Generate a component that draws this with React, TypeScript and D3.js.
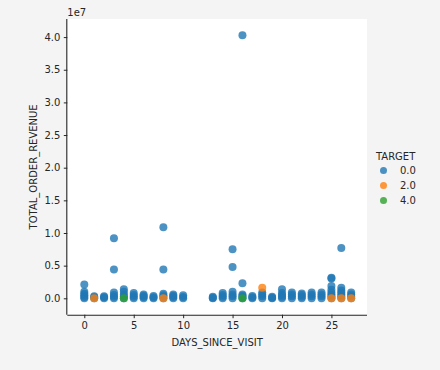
import React, { useEffect, useRef } from "react";
import * as d3 from "d3";

// [DAYS_SINCE_VISIT, TOTAL_ORDER_REVENUE]
const target0: [number, number][] = [
  [0, 0], [0, 200000], [0, 450000], [0, 700000], [0, 1000000], [0, 2100000],
  [1, 0], [1, 150000], [1, 300000],
  [2, 0], [2, 150000], [2, 300000],
  [3, 0], [3, 250000], [3, 500000], [3, 900000], [3, 4400000], [3, 9200000],
  [4, 0], [4, 300000], [4, 600000], [4, 1000000], [4, 1400000],
  [5, 0], [5, 250000], [5, 500000], [5, 800000],
  [6, 0], [6, 200000], [6, 400000], [6, 600000],
  [7, 0], [7, 150000], [7, 350000],
  [8, 0], [8, 250000], [8, 450000], [8, 700000], [8, 4400000], [8, 10900000],
  [9, 0], [9, 200000], [9, 400000], [9, 600000],
  [10, 0], [10, 200000], [10, 450000],
  [13, 0], [13, 100000], [13, 250000],
  [14, 0], [14, 250000], [14, 500000], [14, 800000],
  [15, 0], [15, 300000], [15, 600000], [15, 1000000], [15, 4800000], [15, 7500000],
  [16, 0], [16, 200000], [16, 400000], [16, 600000], [16, 2300000], [16, 40300000],
  [17, 0], [17, 150000], [17, 350000],
  [18, 0], [18, 300000], [18, 600000], [18, 900000],
  [19, 0], [19, 100000], [19, 250000],
  [20, 0], [20, 250000], [20, 500000], [20, 800000], [20, 1400000],
  [21, 0], [21, 300000], [21, 600000], [21, 900000],
  [22, 0], [22, 250000], [22, 500000], [22, 750000],
  [23, 0], [23, 300000], [23, 600000], [23, 900000],
  [24, 0], [24, 300000], [24, 600000], [24, 900000],
  [25, 0], [25, 300000], [25, 600000], [25, 900000], [25, 1300000], [25, 1900000],
  [25, 3050000], [25, 3150000],
  [26, 0], [26, 300000], [26, 600000], [26, 900000], [26, 1200000], [26, 1600000],
  [26, 7700000],
  [27, 0], [27, 300000], [27, 600000], [27, 900000],
];
const target2: [number, number][] = [
  [1, 0], [8, 0], [18, 1600000], [25, 0], [26, 0], [27, 0],
];
const target4: [number, number][] = [
  [4, 0], [16, 0],
];

const seriesNames = ["0.0", "2.0", "4.0"];
const seriesColors = ["#1f77b4", "#ff7f0e", "#2ca02c"];
const seriesData = [target0, target2, target4];

const xTicks = [0, 5, 10, 15, 20, 25];
const yTicks = [0, 0.5e7, 1e7, 1.5e7, 2e7, 2.5e7, 3e7, 3.5e7, 4e7];

const App = () => {
  const svgRef = useRef<SVGSVGElement>(null);

  useEffect(() => {
    const svg = d3.select(svgRef.current);
    svg.selectAll("*").remove();

    const W = 440;
    const H = 370;
    const left = 67.3;
    const right = 367;
    const top = 19;
    const bottom = 314.7;
    const font = "DejaVu Sans, sans-serif";

    svg.attr("width", W).attr("height", H);
    svg.append("rect").attr("width", W).attr("height", H).attr("fill", "#f4f4f4");
    svg
      .append("rect")
      .attr("x", left)
      .attr("y", top)
      .attr("width", right - left)
      .attr("height", bottom - top)
      .attr("fill", "#ffffff");

    const x = d3.scaleLinear().domain([-1.72, 28.6]).range([left, right]);
    const y = d3.scaleLinear().domain([-0.251e7, 4.277e7]).range([bottom, top]);

    // points
    seriesData.forEach((data, i) => {
      svg
        .append("g")
        .selectAll("circle")
        .data(data)
        .enter()
        .append("circle")
        .attr("cx", (d) => x(d[0]))
        .attr("cy", (d) => y(d[1]))
        .attr("r", 4)
        .attr("fill", seriesColors[i])
        .attr("fill-opacity", 0.8);
    });

    // x axis
    const xAxis = svg
      .append("g")
      .attr("transform", `translate(0,${bottom})`)
      .call(d3.axisBottom(x).tickValues(xTicks).tickSize(3.5).tickPadding(3.5).tickFormat(d3.format("d")));
    xAxis.select(".domain").attr("d", `M${left},0.5H${right}`).attr("stroke", "#262626").attr("stroke-width", 1.1);
    xAxis.selectAll(".tick line").attr("stroke", "#262626");
    xAxis.selectAll(".tick text").attr("fill", "#262626").attr("font-size", 10).attr("font-family", font);

    // y axis
    const yAxis = svg
      .append("g")
      .attr("transform", `translate(${left},0)`)
      .call(d3.axisLeft(y).tickValues(yTicks).tickSize(3.5).tickPadding(3.5).tickFormat((d) => (+d / 1e7).toFixed(1)));
    yAxis.select(".domain").attr("d", `M-0.5,${top}V${bottom}`).attr("stroke", "#262626").attr("stroke-width", 1.1);
    yAxis.selectAll(".tick line").attr("stroke", "#262626");
    yAxis.selectAll(".tick text").attr("fill", "#262626").attr("font-size", 10).attr("font-family", font);

    // offset text
    svg
      .append("text")
      .attr("x", left)
      .attr("y", 16)
      .attr("font-size", 10)
      .attr("font-family", font)
      .attr("fill", "#262626")
      .text("1e7");

    // axis labels
    svg
      .append("text")
      .attr("x", (left + right) / 2)
      .attr("y", 346)
      .attr("text-anchor", "middle")
      .attr("font-size", 10)
      .attr("font-family", font)
      .attr("fill", "#262626")
      .text("DAYS_SINCE_VISIT");

    svg
      .append("text")
      .attr("transform", `translate(37,${(top + bottom) / 2}) rotate(-90)`)
      .attr("text-anchor", "middle")
      .attr("font-size", 10)
      .attr("font-family", font)
      .attr("fill", "#262626")
      .text("TOTAL_ORDER_REVENUE");

    // legend
    const legend = svg.append("g").attr("transform", "translate(376,160)");
    legend
      .append("text")
      .attr("x", 0)
      .attr("y", 0)
      .attr("font-size", 10)
      .attr("font-family", font)
      .attr("fill", "#262626")
      .text("TARGET");

    const items = legend
      .selectAll(".legend-item")
      .data(seriesNames)
      .enter()
      .append("g")
      .attr("class", "legend-item")
      .attr("transform", (d, i) => `translate(0,${10.5 + i * 15})`);

    items
      .append("circle")
      .attr("cx", 7.5)
      .attr("cy", 0)
      .attr("r", 3.5)
      .attr("fill", (d, i) => seriesColors[i])
      .attr("fill-opacity", 0.8);

    items
      .append("text")
      .attr("x", 24)
      .attr("y", 3.5)
      .attr("font-size", 10)
      .attr("font-family", font)
      .attr("fill", "#262626")
      .text((d) => d);
  }, []);

  return (
    <div style={{ position: "absolute", left: 0, top: 0 }}>
      <svg ref={svgRef}></svg>
    </div>
  );
};

export default App;
